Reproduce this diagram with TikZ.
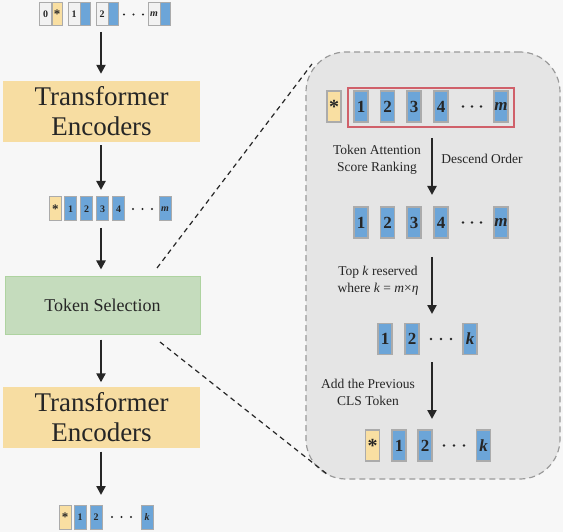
\documentclass[tikz,border=0pt]{standalone}
\usepackage{fontspec}
\setmainfont{Liberation Serif}
\usetikzlibrary{arrows.meta}
\definecolor{bg}{HTML}{F7F7F7}
\definecolor{tblue}{HTML}{6CA5D8}
\definecolor{tyel}{HTML}{F9DFA2}
\definecolor{ency}{HTML}{F7DDA2}
\definecolor{tsg}{HTML}{C5DCBD}
\definecolor{tsgb}{HTML}{AED3A0}
\definecolor{tgray}{HTML}{ABABAB}
\definecolor{tw}{HTML}{F2F2F2}
\definecolor{panelf}{HTML}{E5E5E5}
\definecolor{paneld}{HTML}{9A9A9A}
\definecolor{redb}{HTML}{D0606A}
\definecolor{ink}{HTML}{262626}
\newcommand{\astk}[1]{{\fontsize{#1}{#1}\selectfont\bfseries\raisebox{-0.24em}{*}}}
\begin{document}
\begin{tikzpicture}[x=1pt,y=-1pt,
  arr/.style={draw=ink, line width=2.6pt, -{Triangle[width=9pt,length=9pt]}},
  dl/.style={draw=ink, line width=1.2pt, dash pattern=on 5pt off 4pt},
  bigtok/.style={draw=tgray, line width=1.2pt, minimum width=14pt, minimum height=31pt, inner sep=0pt, text=ink, font=\bfseries\fontsize{17}{17}\selectfont},
  bigblue/.style={bigtok, fill=tblue},
  bigyel/.style={bigtok, fill=tyel},
  smtok/.style={draw=tgray, line width=1pt, minimum width=12pt, minimum height=24pt, inner sep=0pt, text=ink, font=\bfseries\fontsize{10}{10}\selectfont},
  smblue/.style={smtok, fill=tblue},
  smyel/.style={smtok, fill=tyel},
  pairtok/.style={draw=tgray, line width=1pt, minimum height=23pt, inner sep=0pt, text=ink, font=\bfseries\fontsize{10}{10}\selectfont},
  pairwhite/.style={pairtok, fill=tw, minimum width=12pt},
  pairblue/.style={pairtok, fill=tblue, minimum width=10pt},
  pairyel/.style={pairtok, fill=tyel, minimum width=10pt},
  enc/.style={fill=ency, minimum width=197pt, minimum height=61pt, inner sep=0pt, align=center, text=ink, font=\fontsize{27}{30}\selectfont},
  lbl/.style={align=center, text=ink, inner sep=0pt, font=\fontsize{13.5}{16.5}\selectfont}
]
\fill[bg] (0,0) rectangle (563,532);
\useasboundingbox (0,0) rectangle (563,532);

% ---------- right panel ----------
\node[draw=paneld, fill=panelf, line width=1.2pt, dash pattern=on 6pt off 4pt, rounded corners=40pt, minimum width=254pt, minimum height=427pt, inner sep=0pt] (panel) at (433,265.5) {};

% ---------- top row (pairs) ----------
\node[pairwhite] (p0w) at (45.5,14.5) {0};
\node[pairyel] (p0c) at (57,14.5) {\astk{13}};
\node[pairwhite] (p1w) at (74,14.5) {1};
\node[pairblue] (p1c) at (85,14.5) {};
\node[pairwhite] (p2w) at (102,14.5) {2};
\node[pairblue] (p2c) at (113,14.5) {};
\foreach \x in {124,133.5,143} \fill[ink] (\x,14.5) circle (1.2pt);
\node[pairwhite] (pmw) at (154,14.5) {\textit{m}};
\node[pairblue] (pmc) at (165,14.5) {};
\coordinate (r0) at (101,26);

% ---------- encoder 1 ----------
\node[enc] (enc1) at (101.5,111.5) {Transformer\\Encoders};

% ---------- row 2 ----------
\node[smyel] (s0) at (55.5,209) {\astk{13}};
\node[smblue] (s1) at (70.5,209) {1};
\node[smblue] (s2) at (86.5,209) {2};
\node[smblue] (s3) at (102.5,209) {3};
\node[smblue] (s4) at (118.5,209) {4};
\foreach \x in {133,142.5,152} \fill[ink] (\x,209) circle (1.2pt);
\node[smblue] (sm) at (165,209) {\textit{m}};
\coordinate (r2t) at (101,197);
\coordinate (r2b) at (101,221);

% ---------- token selection ----------
\node[draw=tsgb, fill=tsg, line width=1pt, minimum width=195pt, minimum height=57pt, inner sep=0pt, text=ink, font=\fontsize{18}{20}\selectfont] (ts) at (102.5,305.5) {Token Selection};

% ---------- encoder 2 ----------
\node[enc] (enc2) at (101.5,417) {Transformer\\Encoders};

% ---------- bottom row ----------
\node[smyel] (b0) at (65,517) {\astk{13}};
\node[smblue] (b1) at (80,517) {1};
\node[smblue] (b2) at (96,517) {2};
\foreach \x in {112,121.5,131} \fill[ink] (\x,517) circle (1.2pt);
\node[smblue] (bk) at (147,517) {\textit{k}};
\coordinate (r5t) at (101,505);

% ---------- left arrows ----------
\draw[arr, shorten <=6pt, shorten >=7pt] (r0) -- (r0 |- enc1.north);
\draw[arr, shorten <=3pt, shorten >=7pt] (enc1.south -| r0) -- (r2t);
\draw[arr, shorten <=7pt, shorten >=7pt] (r2b) -- (r2b |- ts.north);
\draw[arr, shorten <=5pt, shorten >=4pt] (ts.south -| r0) -- (r0 |- enc2.north);
\draw[arr, shorten <=4pt, shorten >=10pt] (enc2.south -| r0) -- (r5t);

% ---------- dashed zoom lines ----------
\coordinate (z1a) at (157,268);
\coordinate (z1b) at (312,64);
\coordinate (z2a) at (160,342);
\coordinate (z2b) at (327,474);
\draw[dl] (z1a) -- (z1b);
\draw[dl] (z2a) -- (z2b);

% ---------- panel row 1 ----------
\node[bigyel] (q0) at (334,106.5) {\astk{20}};
\node[bigblue] (q1) at (361,106.5) {1};
\node[bigblue] (q2) at (387.5,106.5) {2};
\node[bigblue] (q3) at (414,106.5) {3};
\node[bigblue] (q4) at (441,106.5) {4};
\foreach \x in {463,472,481} \fill[ink] (\x,106.5) circle (1.3pt);
\node[bigblue] (qm) at (501,106.5) {\textit{m}};
\node[draw=redb, line width=1.3pt, minimum width=166pt, minimum height=39pt, inner sep=0pt] (red) at (431,107.5) {};
\coordinate (c1b) at (432,122);

% ---------- panel row 2 ----------
\node[bigblue] (u1) at (361,222.5) {1};
\node[bigblue] (u2) at (387.5,222.5) {2};
\node[bigblue] (u3) at (414,222.5) {3};
\node[bigblue] (u4) at (441,222.5) {4};
\foreach \x in {463,472,481} \fill[ink] (\x,222.5) circle (1.3pt);
\node[bigblue] (um) at (501,222.5) {\textit{m}};
\coordinate (c2t) at (432,207);
\coordinate (c2b) at (432,238);

% ---------- panel row 3 ----------
\node[bigblue] (v1) at (385,339) {1};
\node[bigblue] (v2) at (412,339) {2};
\foreach \x in {431,441,451} \fill[ink] (\x,339) circle (1.3pt);
\node[bigblue] (vk) at (470,339) {\textit{k}};
\coordinate (c3t) at (432,323);
\coordinate (c3b) at (432,355);

% ---------- panel row 4 ----------
\node[bigyel] (w0) at (372.5,445.5) {\astk{20}};
\node[bigblue] (w1) at (399,445.5) {1};
\node[bigblue] (w2) at (425,445.5) {2};
\foreach \x in {444,454,464} \fill[ink] (\x,445.5) circle (1.3pt);
\node[bigblue] (wk) at (483.5,445.5) {\textit{k}};
\coordinate (c4t) at (432,430);

% ---------- panel arrows ----------
\draw[arr, shorten <=16pt, shorten >=12pt] (c1b) -- (c2t);
\draw[arr, shorten <=19pt, shorten >=9pt] (c2b) -- (c3t);
\draw[arr, shorten <=7pt, shorten >=11pt] (c3b) -- (c4t);

% ---------- panel labels ----------
\node[lbl] (l1) at (377,160) {Token Attention\\Score Ranking};
\node[lbl] (l2) at (482,159) {Descend Order};
\node[lbl] (l3) at (378,281) {Top \textit{k} reserved\\where \textit{k} = \textit{m}×\textit{η}};
\node[lbl] (l4) at (368,392.5) {Add the Previous\\CLS Token};
\end{tikzpicture}
\end{document}
